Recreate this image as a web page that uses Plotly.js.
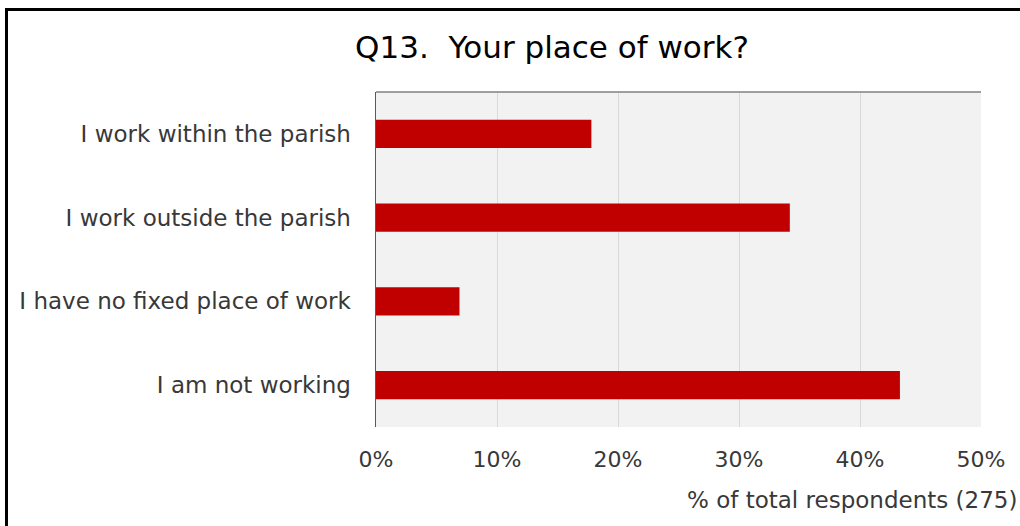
<!DOCTYPE html>
<html>
<head>
<meta charset="utf-8">
<script src="https://cdn.plot.ly/plotly-3.0.1.min.js"></script>
<style>
  html, body { margin: 0; padding: 0; background: #fff; }
  #wrap { position: relative; width: 1020px; height: 526px; overflow: hidden; }
  #frame { position: absolute; left: 5px; top: 8px; width: 1100px; height: 600px; border: 3px solid #000; box-sizing: border-box; pointer-events: none; }
  #chart { position: absolute; left: 0; top: 0; width: 1020px; height: 526px; }
</style>
</head>
<body>
<div id="wrap">
  <div id="chart"></div>
  <div id="frame"></div>
</div>
<script>
const categories = [
  "I work within the parish",
  "I work outside the parish",
  "I have no fixed place of work",
  "I am not working"
];
const values = [17.8, 34.2, 6.9, 43.3];
const tickVals = [0, 10, 20, 30, 40, 50];
const tickText = ["0%", "10%", "20%", "30%", "40%", "50%"];
const chartTitle = "Q13.  Your place of work?";
const axisTitle = "% of total respondents (275)";

const FONT = "'DejaVu Sans', sans-serif";
const TXT = "#383838";

const trace = {
  type: "bar",
  orientation: "h",
  x: values,
  y: categories,
  marker: { color: "#c00000" },
  hoverinfo: "x+y"
};

const plotL = 376, plotR = 981, plotT = 92, plotB = 427;

const layout = {
  width: 1020,
  height: 526,
  paper_bgcolor: "rgba(0,0,0,0)",
  plot_bgcolor: "#f2f2f2",
  margin: { l: plotL, r: 1020 - plotR, t: plotT, b: 526 - plotB },
  bargap: 0.66,
  showlegend: false,
  font: { family: FONT, color: TXT },
  title: {
    text: chartTitle,
    font: { family: FONT, size: 31, color: "#000" },
    x: 552 / 1020,
    xanchor: "center",
    xref: "container",
    y: 1 - 47 / 526,
    yanchor: "middle",
    yref: "container"
  },
  xaxis: {
    range: [0, 50],
    tickvals: tickVals,
    ticktext: tickText,
    showgrid: true,
    gridcolor: "#d9d9d9",
    gridwidth: 1,
    zeroline: false,
    showline: false,
    ticks: "",
    ticklabelstandoff: 17,
    tickfont: { family: FONT, size: 22, color: TXT },
    fixedrange: true
  },
  yaxis: {
    autorange: "reversed",
    showline: true,
    linecolor: "#595959",
    linewidth: 1.5,
    showgrid: false,
    zeroline: false,
    ticks: "",
    ticklabelstandoff: 19,
    tickfont: { family: FONT, size: 23, color: TXT },
    fixedrange: true
  },
  shapes: [
    { type: "line", xref: "paper", yref: "paper", x0: 0, x1: 1, y0: 1, y1: 1,
      line: { color: "#808080", width: 1.5 } }
  ],
  annotations: [
    {
      text: axisTitle,
      xref: "paper", yref: "paper",
      x: (1019 - plotL) / (plotR - plotL),
      y: -(500 - plotB) / (plotB - plotT),
      xanchor: "right", yanchor: "middle",
      showarrow: false,
      font: { family: FONT, size: 23, color: TXT }
    }
  ]
};

Plotly.newPlot("chart", [trace], layout, { displayModeBar: false, staticPlot: true });
</script>
</body>
</html>
